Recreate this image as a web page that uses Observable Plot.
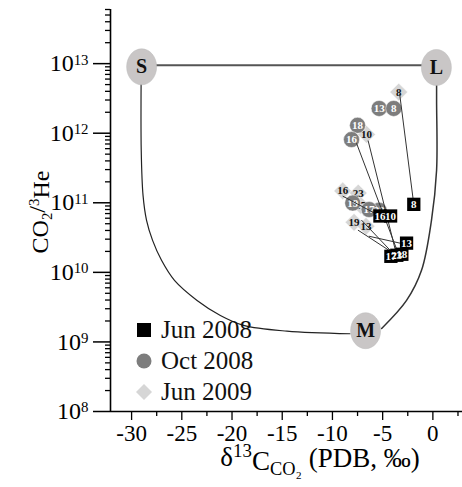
<!DOCTYPE html>
<html><head><meta charset="utf-8">
<script src="https://cdn.jsdelivr.net/npm/d3@7"></script>
<script src="https://cdn.jsdelivr.net/npm/@observablehq/plot@0.6"></script>
<style>
body{margin:0;background:#fff;}
#wrap{position:relative;width:462px;height:487px;font-family:"Liberation Serif",serif;overflow:hidden;}
#legend{position:absolute;left:136px;top:314px;font-size:25px;line-height:31px;color:#111;}
#legend div{display:flex;align-items:center;height:31px;}
#legend svg{margin-right:9px;}
</style></head><body><div id="wrap"><div id="legend"></div></div>
<script>
// End members of the mixing model
const endMembers = [
  {name:"S", d13C:-29.0, ratio:9.0e12},
  {name:"L", d13C:0.35, ratio:8.8e12},
  {name:"M", d13C:-6.7, ratio:1.45e9}
];
// mixing curves
const curveSM = [
  {d13C:-29.04, ratio:8.9e12},{d13C:-29.04, ratio:5.7e11},{d13C:-28.86, ratio:1.28e11},
  {d13C:-28.51, ratio:5.6e10},{d13C:-27.91, ratio:2.88e10},{d13C:-27.02, ratio:1.49e10},
  {d13C:-25.73, ratio:7.67e9},{d13C:-23.48, ratio:3.95e9},{d13C:-21.16, ratio:2.4e9},
  {d13C:-18.85, ratio:1.73e9},{d13C:-14.54, ratio:1.43e9},{d13C:-8.25, ratio:1.31e9}
];
const curveLM = [
  {d13C:0.37, ratio:8.8e12},{d13C:0.37, ratio:3.0e12},{d13C:0.37, ratio:2.94e11},
  {d13C:-0.14, ratio:5.6e10},{d13C:-1.13, ratio:1.07e10},{d13C:-2.62, ratio:3.95e9},
  {d13C:-5.1, ratio:1.56e9}
];
const curveSL = [{d13C:-29.0, ratio:9.5e12},{d13C:0.35, ratio:9.5e12}];
// samples
const jun2008 = [
  {site:"8", d13C:-1.9, ratio:9.5e10},
  {site:"16", d13C:-5.27, ratio:6.46e10},
  {site:"10", d13C:-4.21, ratio:6.46e10},
  {site:"13", d13C:-2.62, ratio:2.63e10},
  {site:"17", d13C:-4.18, ratio:1.7e10},
  {site:"23", d13C:-3.59, ratio:1.76e10},
  {site:"18", d13C:-3.09, ratio:1.82e10}
];
const oct2008 = [
  {site:"13", d13C:-5.35, ratio:2.27e12},
  {site:"8", d13C:-3.9, ratio:2.27e12},
  {site:"18", d13C:-7.5, ratio:1.3e12},
  {site:"16", d13C:-8.1, ratio:8.1e11},
  {site:"23", d13C:-5.35, ratio:7.8e10},
  {site:"17", d13C:-6.35, ratio:8.0e10},
  {site:"19", d13C:-7.98, ratio:9.9e10}
];
const jun2009 = [
  {site:"8", d13C:-3.4, ratio:3.9e12},
  {site:"10", d13C:-6.6, ratio:9.6e11},
  {site:"16", d13C:-8.98, ratio:1.48e11},
  {site:"23", d13C:-7.43, ratio:1.38e11},
  {site:"17", d13C:-7.19, ratio:9.2e10},
  {site:"19", d13C:-7.85, ratio:5.24e10},
  {site:"13", d13C:-6.66, ratio:4.59e10}
];
// arrows: from -> to
const arrows = [
  {x1:-1.9, y1:9.5e10, x2:-3.3, y2:3.6e12, bend:22},
  {x1:-3.49, y1:1.94e10, x2:-7.59, y2:7.1e11, bend:0},
  {x1:-3.68, y1:1.94e10, x2:-6.44, y2:7.74e11, bend:0},
  {x1:-5.27, y1:6.46e10, x2:-8.95, y2:1.24e11, bend:60},
  {x1:-4.11, y1:1.96e10, x2:-7.43, y2:4.02e10, bend:0},
  {x1:-3.12, y1:2.6e10, x2:-6.34, y2:3.3e10, bend:0},
  {x1:-3.78, y1:1.76e10, x2:-7.09, y2:5.6e10, bend:0}
];
const xTicks = [-30,-25,-20,-15,-10,-5,0];
const xMinor = [-27.5,-22.5,-17.5,-12.5,-7.5,-2.5,2.5];
const yTicks = [1e8,1e9,1e10,1e11,1e12,1e13];
const legendItems = ["Jun 2008","Oct 2008","Jun 2009"];

const yMinor = [];
for (let e = 8; e <= 13; e++) for (let m = 2; m <= 9; m++) if (m*Math.pow(10,e) <= 6e13) yMinor.push(m*Math.pow(10,e));

const ellipse = {draw(ctx){const rx=15, ry=18, k=0.5523;
  ctx.moveTo(rx,0); ctx.bezierCurveTo(rx,ry*k,rx*k,ry,0,ry); ctx.bezierCurveTo(-rx*k,ry,-rx,ry*k,-rx,0);
  ctx.bezierCurveTo(-rx,-ry*k,-rx*k,-ry,0,-ry); ctx.bezierCurveTo(rx*k,-ry,rx,-ry*k,rx,0); ctx.closePath();}};

const font = "Liberation Serif";
const chart = Plot.plot({
  width:462, height:487,
  marginLeft:110, marginRight:0, marginTop:9, marginBottom:76,
  style:{fontFamily:font, background:"#fff", overflow:"visible"},
  x:{domain:[-32.1,2.95], label:null},
  y:{type:"log", domain:[1e8,6e13], label:null},
  marks:[
    Plot.axisX({ticks:xTicks, tickSize:9, tickPadding:4, tickFormat:d=>String(d), fontSize:23, stroke:"#000", strokeWidth:1.3, color:"#000"}),
    Plot.axisX({ticks:xMinor, tickSize:5, tickFormat:()=>"", stroke:"#000", strokeWidth:1.3}),
    Plot.axisY({ticks:yTicks, tickSize:17, tickPadding:5, tickFormat:d=>String(Math.round(Math.log10(d))), fontSize:24, stroke:"#000", strokeWidth:1.5, color:"#000"}),
    Plot.axisY({ticks:yMinor, tickSize:5, tickFormat:()=>"", stroke:"#000", strokeWidth:1.3}),
    Plot.ruleX([-32.1], {stroke:"#000", strokeWidth:1.6}),
    Plot.ruleY([1e8], {stroke:"#000", strokeWidth:1.6}),
    Plot.line(curveSL, {x:"d13C", y:"ratio", stroke:"#555", strokeWidth:2}),
    Plot.line(curveSM, {x:"d13C", y:"ratio", curve:"catmull-rom", stroke:"#222", strokeWidth:1.2}),
    Plot.line(curveLM, {x:"d13C", y:"ratio", curve:"catmull-rom", stroke:"#333", strokeWidth:1.5}),
    Plot.dot(endMembers, {x:"d13C", y:"ratio", symbol:ellipse, fill:"#c9c6c6", stroke:"#bbb", strokeWidth:0.5}),
    Plot.text(endMembers, {x:"d13C", y:"ratio", text:"name", fontSize:20, fontWeight:"bold", fill:"#111"}),
    Plot.dot(jun2009, {x:"d13C", y:"ratio", symbol:"diamond2", r:8, fill:"#d6d6d6", stroke:"#fff", strokeWidth:0.5}),
    Plot.text(jun2009, {x:"d13C", y:"ratio", text:"site", fontSize:11, fontWeight:"bold", fill:"#111"}),
    Plot.dot(oct2008, {x:"d13C", y:"ratio", symbol:"circle", r:8, fill:"#7d7d7d", stroke:"#fff", strokeWidth:0.5}),
    Plot.text(oct2008, {x:"d13C", y:"ratio", text:"site", fontSize:11, fontWeight:"bold", fill:"#fff"}),
    Plot.arrow(arrows, {x1:"x1", y1:"y1", x2:"x2", y2:"y2", bend:"bend", stroke:"#333", strokeWidth:1, headLength:7}),
    Plot.dot(jun2008, {x:"d13C", y:"ratio", symbol:"square", r:7.5, fill:"#000"}),
    Plot.text(jun2008, {x:"d13C", y:"ratio", text:"site", fontSize:11, fontWeight:"bold", fill:"#fff"})
  ]
});
const wrap = document.getElementById("wrap");
wrap.insertBefore(chart, wrap.firstChild);
const svg = d3.select(chart);
// superscript tick labels 10^n
svg.selectAll('g[aria-label="y-axis tick label"] text').each(function(){
  const t = d3.select(this); const e = t.text(); if (!e) return; t.text("");
  t.append("tspan").text("10");
  t.append("tspan").attr("dy","-0.45em").attr("font-size","0.62em").text(e);
});
// y label
const yl = svg.append("text").attr("transform","translate(48,212) rotate(-90)").attr("text-anchor","middle")
  .attr("font-size",24).attr("font-family",font).attr("fill","#000");
yl.append("tspan").text("CO");
yl.append("tspan").attr("font-size","0.62em").attr("dy","0.3em").text("2");
yl.append("tspan").attr("dy","-0.3em").text("/");
yl.append("tspan").attr("font-size","0.62em").attr("dy","-0.45em").text("3");
yl.append("tspan").attr("dy","0.45em").text("He");
// x label
const xl = svg.append("text").attr("x",320).attr("y",466).attr("text-anchor","middle")
  .attr("font-size",27).attr("font-family",font).attr("fill","#000");
xl.append("tspan").text("δ");
xl.append("tspan").attr("font-size","0.7em").attr("dy","-0.45em").text("13");
xl.append("tspan").attr("dy","0.45em").text("C");
xl.append("tspan").attr("font-size","0.68em").attr("dy","0.3em").text("CO₂");
xl.append("tspan").attr("dy","-0.3em").text(" (PDB, ‰)");
// legend
const shapes = [
  '<rect x="1" y="1" width="14" height="14" fill="#000"/>',
  '<circle cx="8" cy="8" r="7.5" fill="#7d7d7d"/>',
  '<path d="M8 0 L16 8 L8 16 L0 8 Z" fill="#d6d6d6"/>'
];
const lg = document.getElementById("legend");
legendItems.forEach((name,i)=>{
  const row = document.createElement("div");
  row.innerHTML = `<svg width="16" height="16">${shapes[i]}</svg><span>${name}</span>`;
  lg.appendChild(row);
});
</script></body></html>
